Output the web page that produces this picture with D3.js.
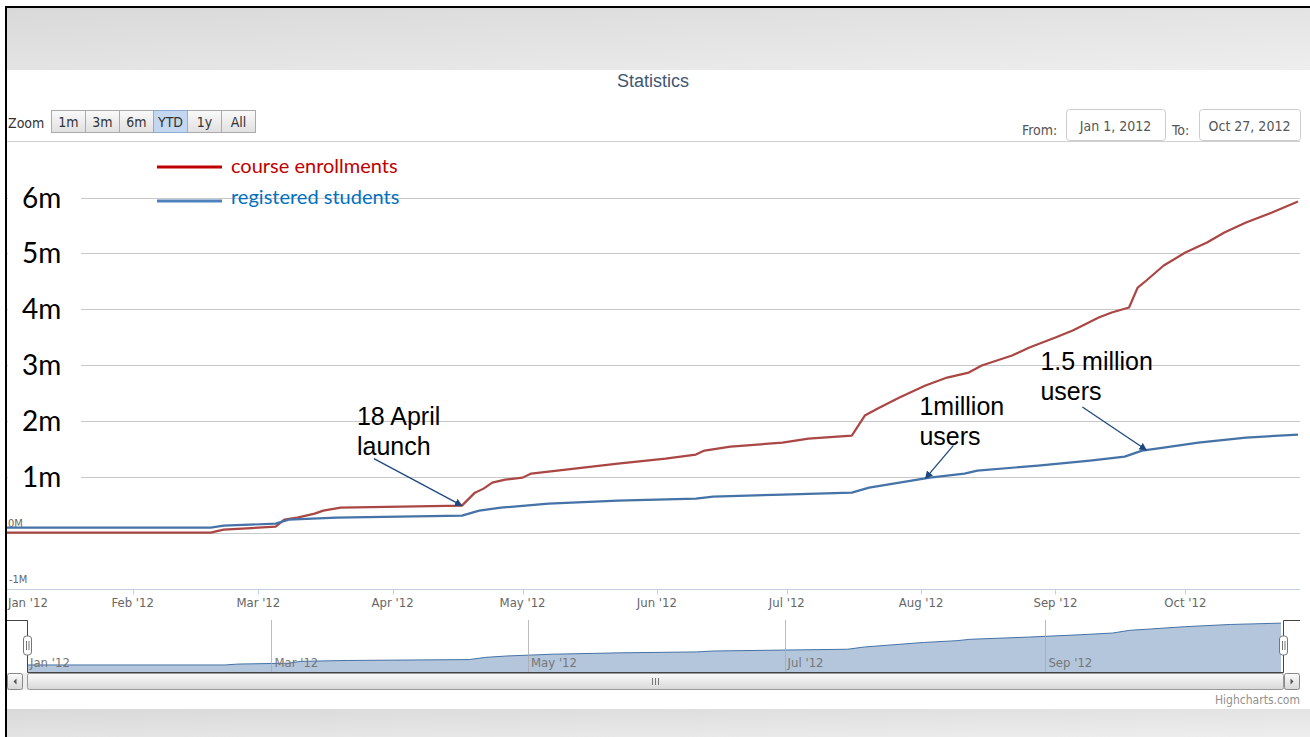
<!DOCTYPE html>
<html>
<head>
<meta charset="utf-8">
<script src="https://cdn.jsdelivr.net/npm/d3@7"></script>
<style>
	body { margin: 0; background: #fff; }
	svg { display: block; }
</style>
</head>
<body>
<svg id="chart" width="1310" height="737"></svg>
<script>
/*
 * Statistics - course enrollments vs registered students, 2012 (YTD)
 * values are in millions
 */

var enrollDates = ["2012-01-01", "2012-02-19", "2012-02-22", "2012-03-05", "2012-03-07", "2012-03-10",
	"2012-03-14", "2012-03-16", "2012-03-20", "2012-04-17", "2012-04-20", "2012-04-22", "2012-04-24",
	"2012-04-27", "2012-05-01", "2012-05-03", "2012-05-11", "2012-05-23", "2012-06-03", "2012-06-10",
	"2012-06-12", "2012-06-18", "2012-06-30", "2012-07-06", "2012-07-16", "2012-07-19", "2012-07-22",
	"2012-07-27", "2012-08-02", "2012-08-07", "2012-08-12", "2012-08-15", "2012-08-22", "2012-08-26",
	"2012-09-01", "2012-09-05", "2012-09-11", "2012-09-14", "2012-09-18", "2012-09-20", "2012-09-22",
	"2012-09-26", "2012-10-01", "2012-10-06", "2012-10-10", "2012-10-15", "2012-10-21", "2012-10-27"];
var enrollValues = [0, 0, 0.054, 0.107, 0.233, 0.269,
	0.340, 0.394, 0.448, 0.484, 0.716, 0.788, 0.896,
	0.949, 0.985, 1.057, 1.128, 1.236, 1.325, 1.397,
	1.469, 1.540, 1.612, 1.684, 1.737, 2.096, 2.221,
	2.418, 2.633, 2.776, 2.866, 2.991, 3.170, 3.314,
	3.493, 3.618, 3.851, 3.941, 4.030, 4.388, 4.514,
	4.782, 5.015, 5.194, 5.373, 5.553, 5.732, 5.929];

var studentDates = ["2012-01-01", "2012-02-19", "2012-02-22", "2012-03-05", "2012-03-08", "2012-03-19",
	"2012-04-17", "2012-04-21", "2012-04-26", "2012-05-07", "2012-05-23", "2012-06-10", "2012-06-14",
	"2012-06-30", "2012-07-16", "2012-07-20", "2012-07-27", "2012-08-03", "2012-08-11", "2012-08-14",
	"2012-08-28", "2012-09-09", "2012-09-17", "2012-09-21", "2012-09-26", "2012-10-04", "2012-10-15",
	"2012-10-27"];
var studentValues = [0.090, 0.090, 0.125, 0.161, 0.233, 0.269,
	0.304, 0.394, 0.448, 0.519, 0.573, 0.609, 0.645,
	0.681, 0.716, 0.806, 0.896, 0.985, 1.057, 1.111,
	1.200, 1.290, 1.361, 1.469, 1.522, 1.612, 1.702,
	1.755];

var seriesNames = ["course enrollments", "registered students"];
var yTicks = [6, 5, 4, 3, 2, 1];
var yTickLabels = ["6m", "5m", "4m", "3m", "2m", "1m"];
var smallTicks = [0, -1];
var smallTickLabels = ["0M", "-1M"];
var zoomButtons = ["1m", "3m", "6m", "YTD", "1y", "All"];
var selectedButton = "YTD";
var rangeFrom = "Jan 1, 2012";
var rangeTo = "Oct 27, 2012";

var annotations = [
	{ lines: ["18 April", "launch"], date: "2012-04-17", series: 0 },
	{ lines: ["1million", "users"], date: "2012-08-02", series: 1 },
	{ lines: ["1.5 million", "users"], date: "2012-09-22", series: 1 }
];
// text / arrow-tail offsets from the arrow tip
var annotationLayout = [
	{ tx: -105, ty: -81, ax: -88, ay: -47 },
	{ tx: -6, ty: -63, ax: 28, ay: -33 },
	{ tx: -106, ty: -80, ax: -64, ay: -43 }
];

var HC_FONT = '"Liberation Sans Narrow", "DejaVu Sans Condensed", Roboto, sans-serif';
var SLIDE_FONT = 'Lato, "Open Sans", sans-serif';
var ARIAL = '"Liberation Sans", Arial, sans-serif';

var parse = d3.timeParse("%Y-%m-%d");

function toSeries(dates, values) {
	return dates.map(function (d, i) { return { date: parse(d), value: values[i] }; });
}

var series = [toSeries(enrollDates, enrollValues), toSeries(studentDates, studentValues)];

function valueAt(s, date) {
	var i = d3.bisector(function (d) { return d.date; }).left(s, date);
	if (i <= 0) return s[0].value;
	if (i >= s.length) return s[s.length - 1].value;
	var a = s[i - 1], b = s[i];
	var t = (date - a.date) / (b.date - a.date);
	return a.value + (b.value - a.value) * t;
}

var svg = d3.select("#chart");
var defs = svg.append("defs");

// ---- slide frame ----
var band = defs.append("linearGradient").attr("id", "band")
	.attr("x1", 0).attr("y1", 0).attr("x2", 1).attr("y2", 1);
band.append("stop").attr("offset", 0).attr("stop-color", "#d9d9d9");
band.append("stop").attr("offset", 1).attr("stop-color", "#eeeeee");

svg.append("rect").attr("x", 7).attr("y", 8).attr("width", 1303).attr("height", 62).attr("fill", "url(#band)");
svg.append("rect").attr("x", 7).attr("y", 709).attr("width", 1303).attr("height", 28).attr("fill", "url(#band)");
svg.append("line").attr("x1", 6).attr("x2", 6).attr("y1", 6).attr("y2", 737)
	.attr("stroke", "#000").attr("stroke-width", 2);
svg.append("line").attr("x1", 5).attr("x2", 1310).attr("y1", 7).attr("y2", 7)
	.attr("stroke", "#000").attr("stroke-width", 2);

// ---- title ----
svg.append("text").attr("x", 653).attr("y", 87).attr("text-anchor", "middle")
	.attr("font-family", ARIAL).attr("font-size", 18).attr("fill", "#3e576f")
	.text("Statistics");

// ---- range selector ----
svg.append("text").attr("x", 8).attr("y", 128).attr("font-family", HC_FONT)
	.attr("font-size", 14).attr("fill", "#333").text("Zoom");

var btnGrad = defs.append("linearGradient").attr("id", "btn").attr("x1", 0).attr("y1", 0).attr("x2", 0).attr("y2", 1);
btnGrad.append("stop").attr("offset", 0).attr("stop-color", "#fafafa");
btnGrad.append("stop").attr("offset", 1).attr("stop-color", "#e0e0e0");

var btn = svg.append("g").selectAll("g").data(zoomButtons).enter().append("g")
	.attr("transform", function (d, i) { return "translate(" + (51.5 + i * 34) + ",110.5)"; });
btn.append("rect").attr("width", 34).attr("height", 22)
	.attr("fill", function (d) { return d === selectedButton ? "#c3d7f1" : "url(#btn)"; })
	.attr("stroke", function (d) { return d === selectedButton ? "#8faad0" : "#aaa"; });
btn.append("text").attr("x", 17).attr("y", 16).attr("text-anchor", "middle")
	.attr("font-family", HC_FONT).attr("font-size", 14).attr("fill", "#333")
	.text(function (d) { return d; });

svg.append("line").attr("x1", 7).attr("x2", 1300).attr("y1", 141.5).attr("y2", 141.5)
	.attr("stroke", "#cfcfcf");

function inputBox(x, w, label, labelX, value) {
	svg.append("text").attr("x", labelX).attr("y", 135).attr("font-family", HC_FONT)
		.attr("font-size", 14).attr("fill", "#555").text(label);
	svg.append("rect").attr("x", x + 0.5).attr("y", 109.5).attr("width", w).attr("height", 31)
		.attr("rx", 3).attr("fill", "#fff").attr("stroke", "#ccc");
	svg.append("text").attr("x", x + w / 2).attr("y", 131).attr("text-anchor", "middle")
		.attr("font-family", HC_FONT).attr("font-size", 14).attr("fill", "#555").text(value);
}
inputBox(1066, 99, "From:", 1022, rangeFrom);
inputBox(1199, 101, "To:", 1172, rangeTo);

// ---- main plot ----
var plotLeft = 7, plotRight = 1300;
var x = d3.scaleTime().domain([parse("2012-01-01"), parse("2012-10-27")]).range([-1.6, 1298]);
var y = d3.scaleLinear().domain([-1, 6]).range([588.5, 197.5]);

defs.append("clipPath").attr("id", "plotClip").append("rect")
	.attr("x", plotLeft).attr("y", 150).attr("width", plotRight - plotLeft).attr("height", 440);

var gridVals = d3.range(0, 7);
svg.append("g").selectAll("line").data(gridVals).enter().append("line")
	.attr("x1", plotLeft).attr("x2", plotRight)
	.attr("y1", function (d) { return Math.round(y(d)) + 0.5; })
	.attr("y2", function (d) { return Math.round(y(d)) + 0.5; })
	.attr("stroke", "#c8c8c8");

// x axis
var xAxisY = Math.round(y(-1)) + 0.5;
svg.append("line").attr("x1", plotLeft).attr("x2", plotRight).attr("y1", xAxisY).attr("y2", xAxisY)
	.attr("stroke", "#c0d0e0");
var months = d3.timeMonth.range(parse("2012-01-01"), parse("2012-10-28"));
var tickG = svg.append("g").selectAll("g").data(months).enter().append("g");
tickG.append("line")
	.attr("x1", function (d) { return Math.round(x(d)) + 0.5; })
	.attr("x2", function (d) { return Math.round(x(d)) + 0.5; })
	.attr("y1", xAxisY).attr("y2", xAxisY + 5).attr("stroke", "#c0d0e0");
var fmt = d3.timeFormat("%b '%y");
tickG.append("text")
	.attr("x", function (d, i) { return i === 0 ? plotLeft + 1 : x(d); })
	.attr("y", 607)
	.attr("text-anchor", function (d, i) { return i === 0 ? "start" : "middle"; })
	.attr("font-family", HC_FONT).attr("font-size", 13).attr("fill", "#666")
	.text(function (d) { return fmt(d); });

// small highcharts y labels that are not covered
svg.append("g").selectAll("text").data(smallTicks).enter().append("text")
	.attr("x", function (d) { return d < 0 ? 9 : 8; })
	.attr("y", function (d) { return y(d) - 6; })
	.attr("font-family", HC_FONT).attr("font-size", 11).attr("fill", "#666")
	.text(function (d, i) { return smallTickLabels[i]; });

// series
var colors = ["#aa4643", "#4572a7"];
var line = d3.line()
	.x(function (d) { return x(d.date); })
	.y(function (d) { return y(d.value); });

svg.append("g").attr("clip-path", "url(#plotClip)").selectAll("path").data(series).enter().append("path")
	.attr("d", line)
	.attr("fill", "none")
	.attr("stroke", function (d, i) { return colors[i]; })
	.attr("stroke-width", 2.2)
	.attr("stroke-linejoin", "round");

// slide overlay y labels (white boxes over highcharts labels)
var yLab = svg.append("g").selectAll("g").data(yTicks).enter().append("g");
yLab.append("rect").attr("x", plotLeft + 1).attr("width", 73)
	.attr("y", function (d) { return y(d) - 14; }).attr("height", 28).attr("fill", "#fff");
yLab.append("text").attr("x", 22).attr("y", function (d) { return y(d) + 10; })
	.attr("font-family", SLIDE_FONT).attr("font-size", 28).attr("fill", "#000")
	.text(function (d, i) { return yTickLabels[i]; });

// slide overlay legend
var legendColors = ["#c00000", "#4f81bd"];
var legendText = ["#c00000", "#0070c0"];
var leg = svg.append("g").selectAll("g").data(seriesNames).enter().append("g")
	.attr("transform", function (d, i) { return "translate(0," + (i === 0 ? 167 : 201) + ")"; });
leg.append("line").attr("x1", 157).attr("x2", 222)
	.attr("stroke", function (d, i) { return legendColors[i]; }).attr("stroke-width", 3);
leg.append("text").attr("x", 231).attr("y", function (d, i) { return i === 0 ? 6 : 3; })
	.attr("font-family", SLIDE_FONT).attr("font-size", 20)
	.attr("fill", function (d, i) { return legendText[i]; })
	.text(function (d) { return d; });

// annotations
defs.append("marker").attr("id", "arrow").attr("viewBox", "0 0 10 10")
	.attr("refX", 9).attr("refY", 5).attr("markerWidth", 6).attr("markerHeight", 6)
	.attr("markerUnits", "strokeWidth").attr("orient", "auto")
	.append("path").attr("d", "M0,0 L10,5 L0,10 z").attr("fill", "#1f497d");

annotations.forEach(function (a, i) {
	var date = parse(a.date);
	var tipX = x(date), tipY = y(valueAt(series[a.series], date));
	var lay = annotationLayout[i];
	var g = svg.append("g");
	g.append("line").attr("x1", tipX + lay.ax).attr("y1", tipY + lay.ay)
		.attr("x2", tipX).attr("y2", tipY)
		.attr("stroke", "#1f497d").attr("stroke-width", 1.3).attr("marker-end", "url(#arrow)");
	a.lines.forEach(function (t, j) {
		g.append("text").attr("x", tipX + lay.tx).attr("y", tipY + lay.ty + j * 30)
			.attr("font-family", ARIAL).attr("font-size", 25).attr("fill", "#000").text(t);
	});
});

// ---- navigator ----
var navTop = 620, navBottom = 672, navLeft = 27, navRight = 1283;
var nx = d3.scaleTime().domain([parse("2012-01-01"), parse("2012-10-27")]).range([19, 1281]);
var ny = d3.scaleLinear().domain([-0.19, 1.88]).range([navBottom, navTop]);

defs.append("clipPath").attr("id", "navClip").append("rect")
	.attr("x", navLeft).attr("y", navTop).attr("width", navRight - navLeft).attr("height", navBottom - navTop);

var navMonths = d3.timeMonth.every(2).range(parse("2012-01-01"), parse("2012-10-28"));
var navG = svg.append("g");
navG.append("path").datum(series[1]).attr("clip-path", "url(#navClip)")
	.attr("d", d3.area()
		.x(function (d) { return nx(d.date); })
		.y0(navBottom)
		.y1(function (d) { return ny(d.value); }))
	.attr("fill", "#b4c6dc");
navG.append("path").datum(series[1]).attr("clip-path", "url(#navClip)")
	.attr("d", d3.line()
		.x(function (d) { return nx(d.date); })
		.y(function (d) { return ny(d.value); }))
	.attr("fill", "none").attr("stroke", "#4572a7").attr("stroke-width", 1);

var navTicks = navG.selectAll("g.nt").data(navMonths).enter().append("g");
navTicks.filter(function (d) { return nx(d) > navLeft; }).append("line")
	.attr("x1", function (d) { return Math.round(nx(d)) + 0.5; })
	.attr("x2", function (d) { return Math.round(nx(d)) + 0.5; })
	.attr("y1", navTop).attr("y2", navBottom).attr("stroke", "#aaa").attr("stroke-width", 0.8);
navTicks.append("text")
	.attr("x", function (d) { return Math.max(nx(d), navLeft) + 3; })
	.attr("y", 667).attr("font-family", HC_FONT).attr("font-size", 13).attr("fill", "#777")
	.text(function (d) { return fmt(d); });

// outline
navG.append("path")
	.attr("d", "M" + plotLeft + "," + (navTop + 0.5) + "H" + (navLeft + 0.5) + "V" + (navBottom + 0.5) +
		"H" + (navRight + 0.5) + "V" + (navTop + 0.5) + "H" + plotRight)
	.attr("fill", "none").attr("stroke", "#444").attr("stroke-width", 1);

// handles
[navLeft, navRight].forEach(function (hx) {
	var h = navG.append("g").attr("transform", "translate(" + (hx + 0.5) + ",636)");
	h.append("rect").attr("x", -4).attr("y", 0).attr("width", 8).attr("height", 19).attr("rx", 3)
		.attr("fill", "#fff").attr("stroke", "#777");
	h.append("line").attr("x1", -1).attr("x2", -1).attr("y1", 5).attr("y2", 14).attr("stroke", "#777");
	h.append("line").attr("x1", 1.5).attr("x2", 1.5).attr("y1", 5).attr("y2", 14).attr("stroke", "#777");
});

// scrollbar
var sbGrad = defs.append("linearGradient").attr("id", "sb").attr("x1", 0).attr("y1", 0).attr("x2", 0).attr("y2", 1);
sbGrad.append("stop").attr("offset", 0).attr("stop-color", "#fbfbfb");
sbGrad.append("stop").attr("offset", 1).attr("stop-color", "#d8d8d8");
var sb = svg.append("g");
sb.append("rect").attr("x", plotLeft).attr("y", 673).attr("width", plotRight - plotLeft).attr("height", 17)
	.attr("fill", "#eee");
sb.append("rect").attr("x", navLeft + 0.5).attr("y", 673.5).attr("width", navRight - navLeft).attr("height", 16)
	.attr("rx", 2).attr("fill", "url(#sb)").attr("stroke", "#999");
[-3, 0, 3].forEach(function (o) {
	sb.append("line").attr("x1", 655.5 + o).attr("x2", 655.5 + o).attr("y1", 678).attr("y2", 685)
		.attr("stroke", "#777");
});
[[plotLeft + 0.5, 1], [navRight + 1.5, -1]].forEach(function (b) {
	sb.append("rect").attr("x", b[0]).attr("y", 673.5).attr("width", 15).attr("height", 16).attr("rx", 2)
		.attr("fill", "url(#sb)").attr("stroke", "#888");
	var cx = b[0] + 7.5, cy = 681.5;
	sb.append("path")
		.attr("d", b[1] > 0 ?
			"M" + (cx + 1.5) + "," + (cy - 3) + "L" + (cx - 1.5) + "," + cy + "L" + (cx + 1.5) + "," + (cy + 3) + "z" :
			"M" + (cx - 1.5) + "," + (cy - 3) + "L" + (cx + 1.5) + "," + cy + "L" + (cx - 1.5) + "," + (cy + 3) + "z")
		.attr("fill", "#555");
});

// credits
svg.append("text").attr("x", 1300).attr("y", 704).attr("text-anchor", "end")
	.attr("font-family", HC_FONT).attr("font-size", 12).attr("fill", "#909090")
	.text("Highcharts.com");
</script>
</body>
</html>
